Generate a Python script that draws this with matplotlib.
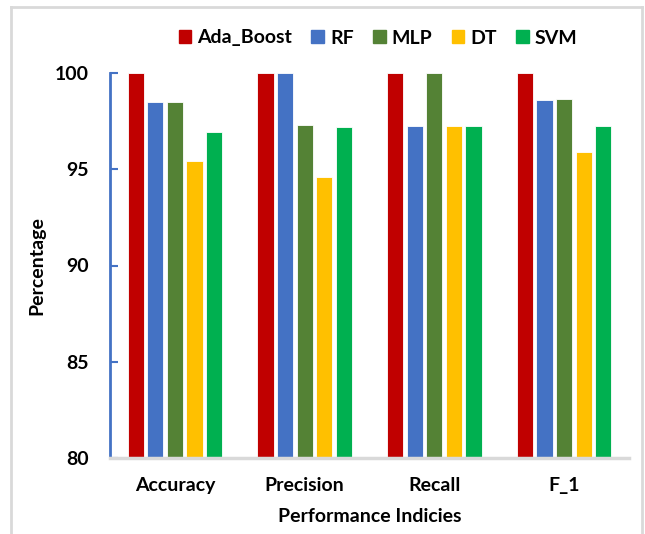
import matplotlib
matplotlib.use("Agg")
import matplotlib.pyplot as plt
import numpy as np
from matplotlib.lines import Line2D

categories = ["Accuracy", "Precision", "Recall", "F_1"]
models = ["Ada_Boost", "RF", "MLP", "DT", "SVM"]
ada_boost = [100.0, 100.0, 100.0, 100.0]
rf = [98.48, 100.0, 97.23, 98.60]
mlp = [98.48, 97.28, 100.0, 98.63]
dt = [95.44, 94.58, 97.23, 95.90]
svm = [96.95, 97.21, 97.23, 97.23]
yticks = [80, 85, 90, 95, 100]

series = [ada_boost, rf, mlp, dt, svm]
colors = ["#C00000", "#4472C4", "#548235", "#FFC000", "#00B050"]

plt.rcParams['font.family'] = ['Lato', 'DejaVu Sans']
plt.rcParams['font.weight'] = 'bold'
FS = 14

fig = plt.figure(figsize=(6.45, 5.34), dpi=100)
ax = fig.add_axes([110/645, 1-458/534, (629-110)/645, (458-73)/534])

x = np.arange(len(categories))
pitch = 0.151
width = 0.125
for i, (vals, c, name) in enumerate(zip(series, colors, models)):
    ax.bar(x + (i - 2) * pitch, vals, width=width, color=c, label=name,
           edgecolor='white', linewidth=0.6, zorder=2)

ax.set_xlim(-0.5, 3.5)
ax.set_ylim(80, 100)
ax.set_yticks(yticks)
ax.set_yticklabels([str(t) for t in yticks], fontsize=FS, fontweight='bold')
ax.set_xticks(x)
ax.set_xticklabels(categories, fontsize=FS, fontweight='bold')
ax.tick_params(axis='x', length=0, pad=14)
ax.tick_params(axis='y', direction='in', length=6, width=1.5, color='#4472C4', pad=15)

for s in ['top', 'right']:
    ax.spines[s].set_visible(False)
ax.spines['left'].set_color('#4472C4')
ax.spines['left'].set_linewidth(2)
ax.spines['bottom'].set_color('#D9D9D9')
ax.spines['bottom'].set_linewidth(2.5)

ax.set_ylabel("Percentage", fontsize=FS, fontweight='bold', labelpad=7)
ax.set_xlabel("Performance Indicies", fontsize=FS, fontweight='bold', labelpad=10)

handles = [plt.Rectangle((0, 0), 1, 1, color=c) for c in colors]
fig.legend(handles, models, loc='center', bbox_to_anchor=(378/645, 1-38/534),
           ncol=5, frameon=False, handlelength=0.65, handleheight=0.65,
           handletextpad=0.3, columnspacing=1.0, prop={'weight': 'bold', 'size': FS})

# outer frame
fc = '#D9D9D9'
fig.add_artist(Line2D([11/645, 11/645], [0, 1-7/534], color=fc, lw=2, transform=fig.transFigure))
fig.add_artist(Line2D([642/645, 642/645], [0, 1-7/534], color=fc, lw=2, transform=fig.transFigure))
fig.add_artist(Line2D([11/645, 642/645], [1-7/534, 1-7/534], color=fc, lw=2, transform=fig.transFigure))

fig.savefig("out.png", dpi=100)
